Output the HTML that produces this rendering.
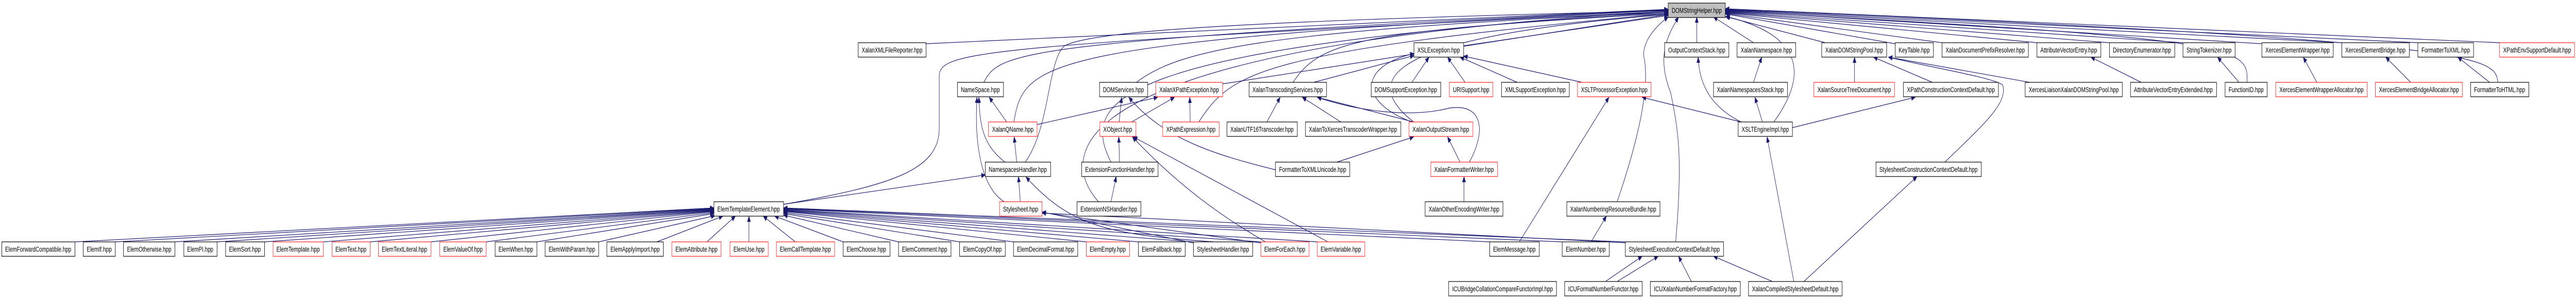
<!DOCTYPE html>
<html><head><meta charset="utf-8"><style>
html,body{margin:0;padding:0;background:#fff;overflow:hidden;width:100%;height:100%;}
svg{display:block;width:100vw;height:100vh;}
.n rect{fill:#fff;stroke:#000;stroke-width:1.2;}
.n.r rect{stroke:#ff2020;}
.n.g rect{fill:#bfbfbf;}
.n text{font-family:"Liberation Sans",sans-serif;font-size:14px;text-anchor:middle;fill:#000;}
.e path,.e line{stroke:#191970;stroke-width:1.2;fill:none;marker-end:url(#a);}
</style></head><body>
<svg viewBox="0 0 7216 581" preserveAspectRatio="none" xmlns="http://www.w3.org/2000/svg">
<defs><marker id="a" markerWidth="12" markerHeight="10" refX="11" refY="5" orient="auto" markerUnits="userSpaceOnUse"><path d="M0,0 L12,5 L0,10 z" fill="#191970"/></marker></defs>
<g class="e">
<line x1="210" y1="470" x2="2000" y2="404"/>
<line x1="323" y1="470" x2="2000" y2="405"/>
<line x1="490" y1="470" x2="2000" y2="406"/>
<line x1="608" y1="470" x2="2000" y2="407"/>
<line x1="741" y1="470" x2="2000" y2="408"/>
<line x1="906" y1="470" x2="2000" y2="409"/>
<line x1="1037" y1="470" x2="2000" y2="410"/>
<line x1="1207" y1="470" x2="2000" y2="411"/>
<line x1="1362" y1="470" x2="2000" y2="413"/>
<line x1="1504" y1="470" x2="2000" y2="415"/>
<line x1="1677" y1="470" x2="2003" y2="419"/>
<line x1="1840" y1="470" x2="2025" y2="420"/>
<line x1="1980" y1="470" x2="2060" y2="420"/>
<line x1="2098" y1="470" x2="2098" y2="420"/>
<line x1="2228" y1="470" x2="2138" y2="420"/>
<line x1="2362" y1="470" x2="2170" y2="420"/>
<line x1="2517" y1="470" x2="2195" y2="418"/>
<line x1="2688" y1="470" x2="2195" y2="415"/>
<line x1="2839" y1="470" x2="2195" y2="413"/>
<line x1="3043" y1="470" x2="2195" y2="411"/>
<line x1="3189" y1="470" x2="2195" y2="410"/>
<line x1="3343" y1="470" x2="2195" y2="409"/>
<line x1="3532" y1="470" x2="2195" y2="408"/>
<line x1="3690" y1="470" x2="2195" y2="407"/>
<line x1="4173" y1="470" x2="2195" y2="406"/>
<line x1="4376" y1="470" x2="2195" y2="405"/>
<line x1="4553" y1="470" x2="2195" y2="404"/>
<path d="M2195,397 C2500,360 2631,330 2631,250 L2631,150 C2631,100 2700,90 4673,22"/>
<line x1="2195" y1="397" x2="2760" y2="340"/>
<path d="M3400,470 C3100,455 3000,440 2874,344"/>
<line x1="3343" y1="472" x2="2919" y2="412"/>
<line x1="4560" y1="472" x2="2919" y2="414"/>
<line x1="3532" y1="472" x2="2919" y2="413"/>
<line x1="2594" y1="85" x2="4673" y2="18"/>
<path d="M2756,160 C2800,100 2850,80 4673,19"/>
<line x1="2820" y1="237" x2="2771" y2="189"/>
<path d="M2840,237 C2870,120 2900,80 4673,20"/>
<line x1="2905" y1="242" x2="3243" y2="189"/>
<path d="M2815,315 C2750,280 2745,240 2742,189"/>
<line x1="2848" y1="315" x2="2841" y2="266"/>
<path d="M2872,315 C2940,250 2935,120 2980,90 C3050,60 3500,40 4673,21"/>
<path d="M2813,392 C2740,360 2730,260 2737,189"/>
<line x1="2858" y1="392" x2="2853" y2="343"/>
<line x1="3112" y1="392" x2="3127" y2="343"/>
<path d="M3077,392 C2960,300 2960,90 4673,22"/>
<line x1="3136" y1="315" x2="3134" y2="266"/>
<path d="M3112,315 C3030,200 3080,90 4673,24"/>
<line x1="3135" y1="237" x2="3142" y2="189"/>
<line x1="3170" y1="237" x2="3290" y2="189"/>
<path d="M3183,160 C3300,100 3500,60 4673,24"/>
<line x1="3425" y1="163" x2="4673" y2="28"/>
<line x1="3334" y1="237" x2="3333" y2="189"/>
<path d="M3358,237 C3450,140 3520,100 4673,26"/>
<path d="M3573,330 C3400,300 3260,270 3162,189"/>
<path d="M3545,470 C3420,420 3300,360 3172,266"/>
<line x1="3720" y1="470" x2="3175" y2="266"/>
<line x1="3549" y1="237" x2="3586" y2="189"/>
<path d="M3622,160 C3700,80 3800,60 4673,26"/>
<line x1="3680" y1="160" x2="3961" y2="108"/>
<line x1="3756" y1="237" x2="3648" y2="189"/>
<line x1="3960" y1="237" x2="3690" y2="189"/>
<path d="M3955,237 C3810,200 3800,130 3961,104"/>
<path d="M3960,237 C3800,150 3900,70 4673,28"/>
<line x1="3745" y1="315" x2="3960" y2="266"/>
<line x1="4090" y1="315" x2="4055" y2="266"/>
<path d="M4116,315 C4160,260 4160,200 4060,210 C3950,230 3800,215 3690,189"/>
<line x1="4101" y1="392" x2="4101" y2="343"/>
<line x1="4100" y1="89" x2="4673" y2="30"/>
<line x1="3955" y1="160" x2="4003" y2="111"/>
<line x1="4104" y1="160" x2="4055" y2="111"/>
<line x1="4250" y1="160" x2="4090" y2="111"/>
<line x1="4432" y1="160" x2="4100" y2="109"/>
<line x1="4256" y1="470" x2="4507" y2="189"/>
<path d="M4530,392 C4600,250 4620,160 4605,110 C4600,80 4640,50 4673,33"/>
<line x1="4457" y1="470" x2="4500" y2="420"/>
<path d="M4694,470 C4715,300 4700,250 4680,180 C4640,110 4670,70 4702,33"/>
<line x1="4753" y1="83" x2="4753" y2="33"/>
<path d="M4877,237 C4800,210 4760,170 4757,111"/>
<line x1="4912" y1="83" x2="4800" y2="33"/>
<line x1="4912" y1="160" x2="4935" y2="111"/>
<line x1="4937" y1="237" x2="4916" y2="189"/>
<path d="M4969,237 C5060,150 5060,70 4835,32"/>
<line x1="4877" y1="237" x2="4600" y2="189"/>
<line x1="5021" y1="248" x2="5365" y2="189"/>
<line x1="5025" y1="547" x2="4950" y2="266"/>
<line x1="5053" y1="547" x2="5370" y2="343"/>
<line x1="4965" y1="547" x2="4800" y2="498"/>
<line x1="4497" y1="547" x2="4600" y2="498"/>
<line x1="4530" y1="547" x2="4645" y2="498"/>
<line x1="4738" y1="547" x2="4702" y2="498"/>
<line x1="5113" y1="83" x2="4833" y2="32"/>
<line x1="5195" y1="160" x2="5195" y2="111"/>
<line x1="5413" y1="160" x2="5248" y2="111"/>
<path d="M5448,315 C5560,240 5625,200 5610,165 C5580,150 5400,130 5290,111"/>
<line x1="5686" y1="160" x2="5290" y2="111"/>
<line x1="5309" y1="85" x2="4833" y2="27"/>
<line x1="5440" y1="83" x2="4833" y2="26"/>
<line x1="5706" y1="83" x2="4833" y2="25"/>
<line x1="5998" y1="160" x2="5857" y2="111"/>
<line x1="5909" y1="83" x2="4833" y2="24"/>
<line x1="6115" y1="83" x2="4833" y2="23"/>
<line x1="6272" y1="160" x2="6212" y2="111"/>
<path d="M6294,160 C6300,90 6280,75 4833,22"/>
<line x1="6336" y1="85" x2="4833" y2="21"/>
<line x1="6490" y1="160" x2="6452" y2="111"/>
<line x1="6560" y1="83" x2="4833" y2="20"/>
<line x1="6753" y1="160" x2="6683" y2="111"/>
<line x1="6773" y1="83" x2="4833" y2="19"/>
<line x1="6974" y1="160" x2="6885" y2="111"/>
<path d="M6997,160 C6990,110 6960,80 4833,18"/>
<line x1="7002" y1="83" x2="4833" y2="17"/>
</g>

<g class="n g"><rect x="4673" y="6" width="160" height="28"/><text x="4753" y="25" textLength="140" lengthAdjust="spacingAndGlyphs">DOMStringHelper.hpp</text></g>

<g class="n"><rect x="2404" y="83" width="190" height="28"/><text x="2499" y="102" textLength="170" lengthAdjust="spacingAndGlyphs">XalanXMLFileReporter.hpp</text></g>
<g class="n"><rect x="3961" y="83" width="139" height="28"/><text x="4030" y="102" textLength="119" lengthAdjust="spacingAndGlyphs">XSLException.hpp</text></g>
<g class="n"><rect x="4663" y="83" width="180" height="28"/><text x="4753" y="102" textLength="160" lengthAdjust="spacingAndGlyphs">OutputContextStack.hpp</text></g>
<g class="n"><rect x="4866" y="83" width="164" height="28"/><text x="4948" y="102" textLength="144" lengthAdjust="spacingAndGlyphs">XalanNamespace.hpp</text></g>
<g class="n"><rect x="5103" y="83" width="182" height="28"/><text x="5194" y="102" textLength="162" lengthAdjust="spacingAndGlyphs">XalanDOMStringPool.hpp</text></g>
<g class="n"><rect x="5309" y="83" width="107" height="28"/><text x="5362" y="102" textLength="87" lengthAdjust="spacingAndGlyphs">KeyTable.hpp</text></g>
<g class="n"><rect x="5440" y="83" width="242" height="28"/><text x="5561" y="102" textLength="222" lengthAdjust="spacingAndGlyphs">XalanDocumentPrefixResolver.hpp</text></g>
<g class="n"><rect x="5706" y="83" width="179" height="28"/><text x="5795" y="102" textLength="159" lengthAdjust="spacingAndGlyphs">AttributeVectorEntry.hpp</text></g>
<g class="n"><rect x="5909" y="83" width="183" height="28"/><text x="6000" y="102" textLength="163" lengthAdjust="spacingAndGlyphs">DirectoryEnumerator.hpp</text></g>
<g class="n"><rect x="6115" y="83" width="146" height="28"/><text x="6188" y="102" textLength="126" lengthAdjust="spacingAndGlyphs">StringTokenizer.hpp</text></g>
<g class="n"><rect x="6336" y="83" width="200" height="28"/><text x="6436" y="102" textLength="180" lengthAdjust="spacingAndGlyphs">XercesElementWrapper.hpp</text></g>
<g class="n"><rect x="6560" y="83" width="189" height="28"/><text x="6654" y="102" textLength="169" lengthAdjust="spacingAndGlyphs">XercesElementBridge.hpp</text></g>
<g class="n"><rect x="6773" y="83" width="156" height="28"/><text x="6851" y="102" textLength="136" lengthAdjust="spacingAndGlyphs">FormatterToXML.hpp</text></g>
<g class="n r"><rect x="7002" y="83" width="210" height="28"/><text x="7107" y="102" textLength="190" lengthAdjust="spacingAndGlyphs">XPathEnvSupportDefault.hpp</text></g>

<g class="n"><rect x="2682" y="160" width="129" height="28"/><text x="2746" y="179" textLength="109" lengthAdjust="spacingAndGlyphs">NameSpace.hpp</text></g>
<g class="n"><rect x="3080" y="160" width="135" height="28"/><text x="3147" y="179" textLength="115" lengthAdjust="spacingAndGlyphs">DOMServices.hpp</text></g>
<g class="n r"><rect x="3238" y="160" width="187" height="28"/><text x="3331" y="179" textLength="167" lengthAdjust="spacingAndGlyphs">XalanXPathException.hpp</text></g>
<g class="n"><rect x="3499" y="160" width="217" height="28"/><text x="3607" y="179" textLength="197" lengthAdjust="spacingAndGlyphs">XalanTranscodingServices.hpp</text></g>
<g class="n"><rect x="3841" y="160" width="195" height="28"/><text x="3938" y="179" textLength="175" lengthAdjust="spacingAndGlyphs">DOMSupportException.hpp</text></g>
<g class="n r"><rect x="4060" y="160" width="122" height="28"/><text x="4121" y="179" textLength="102" lengthAdjust="spacingAndGlyphs">URISupport.hpp</text></g>
<g class="n"><rect x="4206" y="160" width="190" height="28"/><text x="4301" y="179" textLength="170" lengthAdjust="spacingAndGlyphs">XMLSupportException.hpp</text></g>
<g class="n r"><rect x="4419" y="160" width="206" height="28"/><text x="4522" y="179" textLength="186" lengthAdjust="spacingAndGlyphs">XSLTProcessorException.hpp</text></g>
<g class="n"><rect x="4800" y="160" width="207" height="28"/><text x="4903" y="179" textLength="187" lengthAdjust="spacingAndGlyphs">XalanNamespacesStack.hpp</text></g>
<g class="n r"><rect x="5081" y="160" width="226" height="28"/><text x="5194" y="179" textLength="206" lengthAdjust="spacingAndGlyphs">XalanSourceTreeDocument.hpp</text></g>
<g class="n"><rect x="5332" y="160" width="266" height="28"/><text x="5465" y="179" textLength="246" lengthAdjust="spacingAndGlyphs">XPathConstructionContextDefault.hpp</text></g>
<g class="n"><rect x="5673" y="160" width="272" height="28"/><text x="5809" y="179" textLength="252" lengthAdjust="spacingAndGlyphs">XercesLiaisonXalanDOMStringPool.hpp</text></g>
<g class="n"><rect x="5968" y="160" width="241" height="28"/><text x="6088" y="179" textLength="221" lengthAdjust="spacingAndGlyphs">AttributeVectorEntryExtended.hpp</text></g>
<g class="n"><rect x="6233" y="160" width="118" height="28"/><text x="6292" y="179" textLength="98" lengthAdjust="spacingAndGlyphs">FunctionID.hpp</text></g>
<g class="n r"><rect x="6375" y="160" width="256" height="28"/><text x="6503" y="179" textLength="236" lengthAdjust="spacingAndGlyphs">XercesElementWrapperAllocator.hpp</text></g>
<g class="n r"><rect x="6654" y="160" width="244" height="28"/><text x="6776" y="179" textLength="224" lengthAdjust="spacingAndGlyphs">XercesElementBridgeAllocator.hpp</text></g>
<g class="n"><rect x="6921" y="160" width="163" height="28"/><text x="7002" y="179" textLength="143" lengthAdjust="spacingAndGlyphs">FormatterToHTML.hpp</text></g>

<g class="n r"><rect x="2769" y="237" width="136" height="28"/><text x="2837" y="256" textLength="116" lengthAdjust="spacingAndGlyphs">XalanQName.hpp</text></g>
<g class="n r"><rect x="3081" y="237" width="101" height="28"/><text x="3131" y="256" textLength="81" lengthAdjust="spacingAndGlyphs">XObject.hpp</text></g>
<g class="n r"><rect x="3257" y="237" width="158" height="28"/><text x="3336" y="256" textLength="138" lengthAdjust="spacingAndGlyphs">XPathExpression.hpp</text></g>
<g class="n"><rect x="3437" y="237" width="197" height="28"/><text x="3535" y="256" textLength="177" lengthAdjust="spacingAndGlyphs">XalanUTF16Transcoder.hpp</text></g>
<g class="n"><rect x="3657" y="237" width="267" height="28"/><text x="3790" y="256" textLength="247" lengthAdjust="spacingAndGlyphs">XalanToXercesTranscoderWrapper.hpp</text></g>
<g class="n r"><rect x="3947" y="237" width="179" height="28"/><text x="4036" y="256" textLength="159" lengthAdjust="spacingAndGlyphs">XalanOutputStream.hpp</text></g>
<g class="n"><rect x="4869" y="237" width="152" height="28"/><text x="4945" y="256" textLength="132" lengthAdjust="spacingAndGlyphs">XSLTEngineImpl.hpp</text></g>

<g class="n"><rect x="2760" y="315" width="183" height="28"/><text x="2851" y="334" textLength="163" lengthAdjust="spacingAndGlyphs">NamespacesHandler.hpp</text></g>
<g class="n"><rect x="3030" y="315" width="214" height="28"/><text x="3137" y="334" textLength="194" lengthAdjust="spacingAndGlyphs">ExtensionFunctionHandler.hpp</text></g>
<g class="n"><rect x="3573" y="315" width="208" height="28"/><text x="3677" y="334" textLength="188" lengthAdjust="spacingAndGlyphs">FormatterToXMLUnicode.hpp</text></g>
<g class="n r"><rect x="4008" y="315" width="187" height="28"/><text x="4101" y="334" textLength="167" lengthAdjust="spacingAndGlyphs">XalanFormatterWriter.hpp</text></g>
<g class="n"><rect x="5255" y="315" width="295" height="28"/><text x="5402" y="334" textLength="275" lengthAdjust="spacingAndGlyphs">StylesheetConstructionContextDefault.hpp</text></g>

<g class="n"><rect x="2000" y="392" width="195" height="28"/><text x="2097" y="411" textLength="175" lengthAdjust="spacingAndGlyphs">ElemTemplateElement.hpp</text></g>
<g class="n r"><rect x="2800" y="392" width="119" height="28"/><text x="2859" y="411" textLength="99" lengthAdjust="spacingAndGlyphs">Stylesheet.hpp</text></g>
<g class="n"><rect x="3017" y="392" width="179" height="28"/><text x="3106" y="411" textLength="159" lengthAdjust="spacingAndGlyphs">ExtensionNSHandler.hpp</text></g>
<g class="n"><rect x="3992" y="392" width="218" height="28"/><text x="4101" y="411" textLength="198" lengthAdjust="spacingAndGlyphs">XalanOtherEncodingWriter.hpp</text></g>
<g class="n"><rect x="4389" y="392" width="261" height="28"/><text x="4519" y="411" textLength="241" lengthAdjust="spacingAndGlyphs">XalanNumberingResourceBundle.hpp</text></g>

<g class="n"><rect x="5" y="470" width="205" height="28"/><text x="107" y="489" textLength="185" lengthAdjust="spacingAndGlyphs">ElemForwardCompatible.hpp</text></g>
<g class="n"><rect x="233" y="470" width="90" height="28"/><text x="278" y="489" textLength="70" lengthAdjust="spacingAndGlyphs">ElemIf.hpp</text></g>
<g class="n"><rect x="346" y="470" width="144" height="28"/><text x="418" y="489" textLength="124" lengthAdjust="spacingAndGlyphs">ElemOtherwise.hpp</text></g>
<g class="n"><rect x="515" y="470" width="93" height="28"/><text x="561" y="489" textLength="73" lengthAdjust="spacingAndGlyphs">ElemPI.hpp</text></g>
<g class="n"><rect x="632" y="470" width="109" height="28"/><text x="686" y="489" textLength="89" lengthAdjust="spacingAndGlyphs">ElemSort.hpp</text></g>
<g class="n r"><rect x="765" y="470" width="141" height="28"/><text x="835" y="489" textLength="121" lengthAdjust="spacingAndGlyphs">ElemTemplate.hpp</text></g>
<g class="n r"><rect x="930" y="470" width="107" height="28"/><text x="983" y="489" textLength="87" lengthAdjust="spacingAndGlyphs">ElemText.hpp</text></g>
<g class="n r"><rect x="1060" y="470" width="147" height="28"/><text x="1133" y="489" textLength="127" lengthAdjust="spacingAndGlyphs">ElemTextLiteral.hpp</text></g>
<g class="n r"><rect x="1232" y="470" width="130" height="28"/><text x="1297" y="489" textLength="110" lengthAdjust="spacingAndGlyphs">ElemValueOf.hpp</text></g>
<g class="n"><rect x="1387" y="470" width="117" height="28"/><text x="1445" y="489" textLength="97" lengthAdjust="spacingAndGlyphs">ElemWhen.hpp</text></g>
<g class="n"><rect x="1527" y="470" width="150" height="28"/><text x="1602" y="489" textLength="130" lengthAdjust="spacingAndGlyphs">ElemWithParam.hpp</text></g>
<g class="n"><rect x="1700" y="470" width="158" height="28"/><text x="1779" y="489" textLength="138" lengthAdjust="spacingAndGlyphs">ElemApplyImport.hpp</text></g>
<g class="n r"><rect x="1882" y="470" width="138" height="28"/><text x="1951" y="489" textLength="118" lengthAdjust="spacingAndGlyphs">ElemAttribute.hpp</text></g>
<g class="n r"><rect x="2045" y="470" width="107" height="28"/><text x="2098" y="489" textLength="87" lengthAdjust="spacingAndGlyphs">ElemUse.hpp</text></g>
<g class="n r"><rect x="2175" y="470" width="163" height="28"/><text x="2256" y="489" textLength="143" lengthAdjust="spacingAndGlyphs">ElemCallTemplate.hpp</text></g>
<g class="n"><rect x="2362" y="470" width="131" height="28"/><text x="2427" y="489" textLength="111" lengthAdjust="spacingAndGlyphs">ElemChoose.hpp</text></g>
<g class="n"><rect x="2517" y="470" width="147" height="28"/><text x="2590" y="489" textLength="127" lengthAdjust="spacingAndGlyphs">ElemComment.hpp</text></g>
<g class="n"><rect x="2688" y="470" width="128" height="28"/><text x="2752" y="489" textLength="108" lengthAdjust="spacingAndGlyphs">ElemCopyOf.hpp</text></g>
<g class="n"><rect x="2839" y="470" width="180" height="28"/><text x="2929" y="489" textLength="160" lengthAdjust="spacingAndGlyphs">ElemDecimalFormat.hpp</text></g>
<g class="n r"><rect x="3043" y="470" width="121" height="28"/><text x="3103" y="489" textLength="101" lengthAdjust="spacingAndGlyphs">ElemEmpty.hpp</text></g>
<g class="n"><rect x="3189" y="470" width="131" height="28"/><text x="3254" y="489" textLength="111" lengthAdjust="spacingAndGlyphs">ElemFallback.hpp</text></g>
<g class="n"><rect x="3343" y="470" width="166" height="28"/><text x="3426" y="489" textLength="146" lengthAdjust="spacingAndGlyphs">StylesheetHandler.hpp</text></g>
<g class="n r"><rect x="3532" y="470" width="135" height="28"/><text x="3599" y="489" textLength="115" lengthAdjust="spacingAndGlyphs">ElemForEach.hpp</text></g>
<g class="n r"><rect x="3690" y="470" width="133" height="28"/><text x="3756" y="489" textLength="113" lengthAdjust="spacingAndGlyphs">ElemVariable.hpp</text></g>
<g class="n"><rect x="4173" y="470" width="139" height="28"/><text x="4242" y="489" textLength="119" lengthAdjust="spacingAndGlyphs">ElemMessage.hpp</text></g>
<g class="n"><rect x="4376" y="470" width="132" height="28"/><text x="4442" y="489" textLength="112" lengthAdjust="spacingAndGlyphs">ElemNumber.hpp</text></g>
<g class="n"><rect x="4553" y="470" width="275" height="28"/><text x="4690" y="489" textLength="255" lengthAdjust="spacingAndGlyphs">StylesheetExecutionContextDefault.hpp</text></g>

<g class="n"><rect x="4058" y="547" width="302" height="28"/><text x="4209" y="566" textLength="282" lengthAdjust="spacingAndGlyphs">ICUBridgeCollationCompareFunctorImpl.hpp</text></g>
<g class="n"><rect x="4383" y="547" width="217" height="28"/><text x="4491" y="566" textLength="197" lengthAdjust="spacingAndGlyphs">ICUFormatNumberFunctor.hpp</text></g>
<g class="n"><rect x="4623" y="547" width="252" height="28"/><text x="4749" y="566" textLength="232" lengthAdjust="spacingAndGlyphs">ICUXalanNumberFormatFactory.hpp</text></g>
<g class="n"><rect x="4898" y="547" width="262" height="28"/><text x="5029" y="566" textLength="242" lengthAdjust="spacingAndGlyphs">XalanCompiledStylesheetDefault.hpp</text></g>
</svg>
</body></html>
